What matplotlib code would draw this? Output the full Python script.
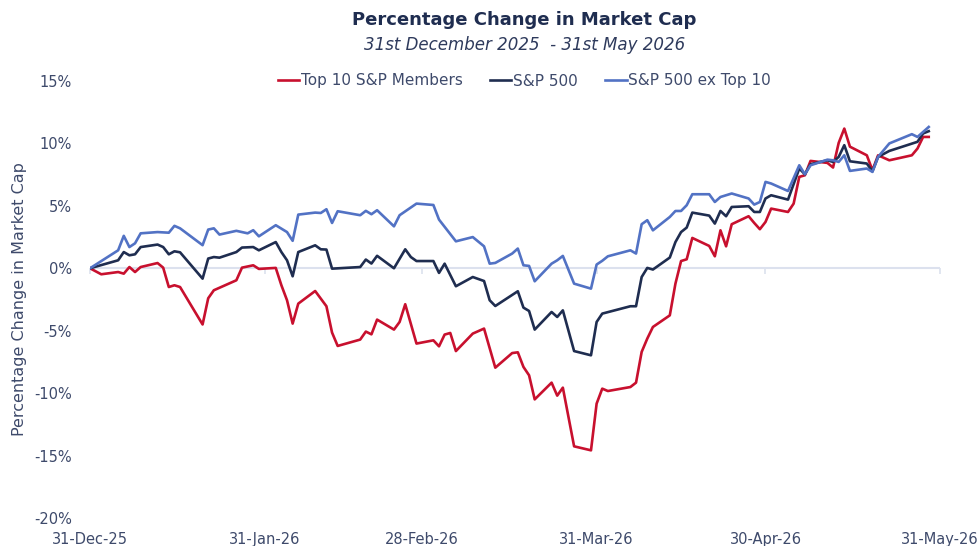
import matplotlib.pyplot as plt
import matplotlib.dates as mdates
import pandas as pd

# Top 10 S&P Members (% change since 31-Dec-25)
top10_dates = [
    "2025-12-31", "2026-01-02", "2026-01-05", "2026-01-06", "2026-01-07", "2026-01-08",
    "2026-01-09", "2026-01-12", "2026-01-13", "2026-01-14", "2026-01-15", "2026-01-16",
    "2026-01-20", "2026-01-21", "2026-01-22", "2026-01-26", "2026-01-27", "2026-01-29",
    "2026-01-30", "2026-02-02", "2026-02-03", "2026-02-04", "2026-02-05", "2026-02-06",
    "2026-02-09", "2026-02-11", "2026-02-12", "2026-02-13", "2026-02-17", "2026-02-18",
    "2026-02-19", "2026-02-20", "2026-02-23", "2026-02-24", "2026-02-25", "2026-02-27",
    "2026-03-02", "2026-03-03", "2026-03-04", "2026-03-05", "2026-03-06", "2026-03-09",
    "2026-03-11", "2026-03-13", "2026-03-16", "2026-03-17", "2026-03-18", "2026-03-19",
    "2026-03-20", "2026-03-23", "2026-03-24", "2026-03-25", "2026-03-27", "2026-03-30",
    "2026-03-31", "2026-04-01", "2026-04-02", "2026-04-06", "2026-04-07", "2026-04-08",
    "2026-04-09", "2026-04-10", "2026-04-13", "2026-04-14", "2026-04-15", "2026-04-16",
    "2026-04-17", "2026-04-20", "2026-04-21", "2026-04-22", "2026-04-23", "2026-04-24",
    "2026-04-27", "2026-04-28", "2026-04-29", "2026-04-30", "2026-05-01", "2026-05-04",
    "2026-05-05", "2026-05-06", "2026-05-07", "2026-05-08", "2026-05-11", "2026-05-12",
    "2026-05-13", "2026-05-14", "2026-05-15", "2026-05-18", "2026-05-19", "2026-05-20",
    "2026-05-22", "2026-05-26", "2026-05-27", "2026-05-28", "2026-05-29",
]
top10_vals = [
    0.00, -0.48, -0.30, -0.43, 0.10, -0.30,
    0.10, 0.42, 0.05, -1.50, -1.36, -1.50,
    -4.50, -2.40, -1.76, -0.96, 0.05, 0.24,
    -0.05, 0.03, -1.36, -2.56, -4.43, -2.83,
    -1.82, -3.04, -5.15, -6.22, -5.71, -5.07,
    -5.29, -4.11, -4.91, -4.30, -2.88, -6.03,
    -5.77, -6.25, -5.31, -5.18, -6.63, -5.23,
    -4.83, -7.96, -6.79, -6.73, -7.90, -8.57,
    -10.50, -9.16, -10.20, -9.56, -14.26, -14.58,
    -10.84, -9.64, -9.83, -9.51, -9.16, -6.70,
    -5.63, -4.70, -3.77, -1.23, 0.58, 0.72,
    2.43, 1.79, 0.96, 3.04, 1.76, 3.53,
    4.17, 3.63, 3.13, 3.71, 4.78, 4.51,
    5.18, 7.32, 7.45, 8.60, 8.44, 8.07,
    10.04, 11.19, 9.74, 9.05, 7.85, 9.05,
    8.65, 9.05, 9.59, 10.52, 10.52,
]

# S&P 500
sp500_dates = [
    "2025-12-31", "2026-01-05", "2026-01-06", "2026-01-07", "2026-01-08", "2026-01-09",
    "2026-01-12", "2026-01-13", "2026-01-14", "2026-01-15", "2026-01-16", "2026-01-20",
    "2026-01-21", "2026-01-22", "2026-01-23", "2026-01-26", "2026-01-27", "2026-01-29",
    "2026-01-30", "2026-02-02", "2026-02-03", "2026-02-04", "2026-02-05", "2026-02-06",
    "2026-02-09", "2026-02-10", "2026-02-11", "2026-02-12", "2026-02-17", "2026-02-18",
    "2026-02-19", "2026-02-20", "2026-02-23", "2026-02-25", "2026-02-26", "2026-02-27",
    "2026-03-02", "2026-03-03", "2026-03-04", "2026-03-06", "2026-03-09", "2026-03-11",
    "2026-03-12", "2026-03-13", "2026-03-17", "2026-03-18", "2026-03-19", "2026-03-20",
    "2026-03-23", "2026-03-24", "2026-03-25", "2026-03-27", "2026-03-30", "2026-03-31",
    "2026-04-01", "2026-04-06", "2026-04-07", "2026-04-08", "2026-04-09", "2026-04-10",
    "2026-04-13", "2026-04-14", "2026-04-15", "2026-04-16", "2026-04-17", "2026-04-20",
    "2026-04-21", "2026-04-22", "2026-04-23", "2026-04-24", "2026-04-27", "2026-04-28",
    "2026-04-29", "2026-04-30", "2026-05-01", "2026-05-04", "2026-05-06", "2026-05-07",
    "2026-05-08", "2026-05-11", "2026-05-12", "2026-05-13", "2026-05-14", "2026-05-15",
    "2026-05-18", "2026-05-19", "2026-05-20", "2026-05-22", "2026-05-27", "2026-05-28",
    "2026-05-29",
]
sp500_vals = [
    0.00, 0.64, 1.30, 1.04, 1.12, 1.70,
    1.90, 1.70, 1.12, 1.36, 1.28, -0.83,
    0.78, 0.90, 0.85, 1.30, 1.66, 1.70,
    1.44, 2.10, 1.30, 0.64, -0.64, 1.30,
    1.84, 1.52, 1.50, -0.03, 0.10, 0.70,
    0.38, 1.00, 0.00, 1.52, 0.90, 0.58,
    0.58, -0.37, 0.37, -1.44, -0.70, -1.02,
    -2.56, -3.02, -1.84, -3.15, -3.42, -4.91,
    -3.50, -3.90, -3.37, -6.63, -6.97, -4.30,
    -3.63, -3.04, -3.04, -0.70, 0.03, -0.10,
    0.86, 2.10, 2.90, 3.26, 4.46, 4.22,
    3.58, 4.59, 4.17, 4.91, 4.97, 4.51,
    4.51, 5.59, 5.85, 5.50, 7.99, 7.53,
    8.33, 8.65, 8.52, 8.92, 9.86, 8.57,
    8.39, 7.77, 8.92, 9.40, 10.13, 10.80,
    10.98,
]

# S&P 500 ex Top 10
ex_top10_dates = [
    "2025-12-31", "2026-01-05", "2026-01-06", "2026-01-07", "2026-01-08", "2026-01-09",
    "2026-01-12", "2026-01-14", "2026-01-15", "2026-01-16", "2026-01-20", "2026-01-21",
    "2026-01-22", "2026-01-23", "2026-01-26", "2026-01-28", "2026-01-29", "2026-01-30",
    "2026-02-02", "2026-02-04", "2026-02-05", "2026-02-06", "2026-02-09", "2026-02-10",
    "2026-02-11", "2026-02-12", "2026-02-13", "2026-02-17", "2026-02-18", "2026-02-19",
    "2026-02-20", "2026-02-23", "2026-02-24", "2026-02-27", "2026-03-02", "2026-03-03",
    "2026-03-06", "2026-03-09", "2026-03-11", "2026-03-12", "2026-03-13", "2026-03-16",
    "2026-03-17", "2026-03-18", "2026-03-19", "2026-03-20", "2026-03-23", "2026-03-24",
    "2026-03-25", "2026-03-27", "2026-03-30", "2026-03-31", "2026-04-01", "2026-04-02",
    "2026-04-06", "2026-04-07", "2026-04-08", "2026-04-09", "2026-04-10", "2026-04-13",
    "2026-04-14", "2026-04-15", "2026-04-16", "2026-04-17", "2026-04-20", "2026-04-21",
    "2026-04-22", "2026-04-24", "2026-04-27", "2026-04-28", "2026-04-29", "2026-04-30",
    "2026-05-01", "2026-05-04", "2026-05-06", "2026-05-07", "2026-05-08", "2026-05-11",
    "2026-05-12", "2026-05-13", "2026-05-14", "2026-05-15", "2026-05-18", "2026-05-19",
    "2026-05-20", "2026-05-22", "2026-05-26", "2026-05-27", "2026-05-29",
]
ex_top10_vals = [
    0.00, 1.44, 2.60, 1.70, 2.00, 2.80,
    2.90, 2.85, 3.40, 3.20, 1.85, 3.10,
    3.20, 2.70, 3.00, 2.80, 3.05, 2.56,
    3.45, 2.90, 2.20, 4.30, 4.46, 4.43,
    4.73, 3.63, 4.57, 4.25, 4.60, 4.33,
    4.65, 3.36, 4.25, 5.18, 5.07, 3.90,
    2.16, 2.50, 1.76, 0.37, 0.43, 1.18,
    1.58, 0.24, 0.19, -1.04, 0.37, 0.64,
    0.99, -1.23, -1.63, 0.30, 0.60, 0.96,
    1.44, 1.18, 3.53, 3.85, 3.04, 4.11,
    4.59, 4.59, 5.05, 5.93, 5.93, 5.31,
    5.71, 5.99, 5.59, 5.10, 5.31, 6.92,
    6.79, 6.19, 8.25, 7.53, 8.25, 8.70,
    8.65, 8.52, 9.05, 7.80, 7.99, 7.72,
    8.92, 10.00, 10.74, 10.52, 11.32,
]

tick_dates = ["2025-12-31", "2026-01-31", "2026-02-28", "2026-03-31", "2026-04-30", "2026-05-31"]
y_ticks = [-20, -15, -10, -5, 0, 5, 10, 15]

navy = "#1F2D50"
text_col = "#3E4A6B"
axis_col = "#DCE1EE"

fig = plt.figure(figsize=(9.8, 5.46), dpi=100)
ax = fig.add_axes([90 / 980, 28 / 546, 850 / 980, 437 / 546])

# zero line
ax.axhline(0, color=axis_col, lw=1.5, zorder=1)

ax.plot(pd.to_datetime(top10_dates), top10_vals, color="#C8102E", lw=1.9, label="Top 10 S&P Members", zorder=3)
ax.plot(pd.to_datetime(sp500_dates), sp500_vals, color=navy, lw=1.9, label="S&P 500", zorder=3)
ax.plot(pd.to_datetime(ex_top10_dates), ex_top10_vals, color="#5272C4", lw=1.9, label="S&P 500 ex Top 10", zorder=3)

ticks = pd.to_datetime(tick_dates)
ax.set_xlim(ticks[0], ticks[-1])
ax.set_ylim(y_ticks[0], y_ticks[-1])
ax.set_yticks(y_ticks)
ax.set_yticklabels([f"{v}%" for v in y_ticks])
ax.set_xticks(ticks)
ax.xaxis.set_major_formatter(mdates.DateFormatter("%d-%b-%y"))
ax.tick_params(axis="both", length=0, labelsize=10.5, colors=text_col)
ax.tick_params(axis="y", pad=13)
ax.tick_params(axis="x", pad=10)
for s in ax.spines.values():
    s.set_visible(False)

# small tick marks hanging off the zero line
zero_pos = (0 - y_ticks[0]) / (y_ticks[-1] - y_ticks[0])
sec = ax.secondary_xaxis(zero_pos)
sec.set_xticks(ticks)
sec.xaxis.set_ticks_position("bottom")
sec.tick_params(axis="x", direction="out", length=4, width=1.2, color=axis_col,
                labelbottom=False, labeltop=False)
for s in sec.spines.values():
    s.set_visible(False)

ax.set_ylabel("Percentage Change in Market Cap", fontsize=11.5, color=text_col, labelpad=5)

fig.text(0.535, 0.963, "Percentage Change in Market Cap", ha="center", va="center",
         fontsize=13, fontweight="bold", color=navy)
fig.text(0.535, 0.918, "31st December 2025  - 31st May 2026", ha="center", va="center",
         fontsize=12, style="italic", color="#2E3A5C")

fig.legend(loc="center", bbox_to_anchor=(0.535, 1 - 81 / 546), ncol=3, frameon=False,
           fontsize=11, handlelength=1.4, handletextpad=0.1, columnspacing=1.8,
           labelcolor=text_col)

fig.savefig("out.png", dpi=100)
